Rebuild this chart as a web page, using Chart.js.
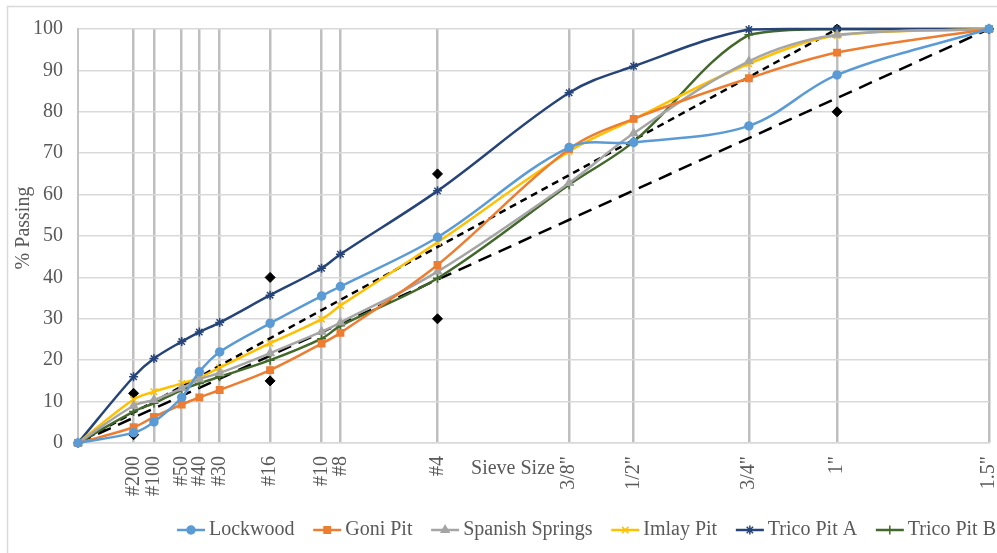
<!DOCTYPE html>
<html><head><meta charset="utf-8">
<script src="https://cdn.jsdelivr.net/npm/chart.js@4.4.1/dist/chart.umd.min.js"></script>
<style>html,body{margin:0;padding:0;background:#fff;overflow:hidden}</style>
</head><body>
<canvas id="c" width="997" height="553" style="display:block;width:997px;height:553px"></canvas>
<script>
// ---- data ----
const sieveLabels = ['#200','#100','#50','#40','#30','#16','#10','#8','#4','3/8"','1/2"','3/4"','1"','1.5"'];
const sieveSizesMm = [0.075,0.15,0.3,0.425,0.6,1.18,2.0,2.36,4.75,9.5,12.5,19,25,37.5];
const pointSizesMm = [0,0.075,0.15,0.3,0.425,0.6,1.18,2.0,2.36,4.75,9.5,12.5,19,25,37.5];
const lockwood     = [0, 2.5, 5.1, 11.0, 17.2, 22.0, 28.9, 35.5, 37.8, 49.7, 71.4, 72.6, 76.6, 88.9, 100];
const goniPit      = [0, 3.8, 6.3,  9.3, 11.0, 12.8, 17.6, 24.0, 26.6, 43.0, 71.0, 78.3, 88.1, 94.3, 100];
const spanishSpr   = [0, 9.0,10.4, 13.2, 15.4, 16.9, 21.7, 26.9, 29.1, 41.4, 62.8, 74.8, 92.2, 98.6, 100];
const imlayPit     = [0,10.5,12.4, 14.4, 15.8, 18.2, 24.1, 29.9, 33.2, 48.5, 70.4, 78.2, 91.6, 98.4, 100];
const tricoPitA    = [0,16.0,20.4, 24.5, 26.8, 29.1, 35.7, 42.2, 45.6, 60.9, 84.6, 91.0, 99.9, 100, 100];
const tricoPitB    = [0, 7.6, 9.6, 12.8, 14.4, 16.0, 20.0, 25.2, 28.3, 39.8, 62.4, 72.8, 98.6, 100, 100];
const maxDensity15Sizes = [0, 37.5];
const maxDensity15Vals  = [0, 100];
const maxDensity1Sizes  = [0, 25];
const maxDensity1Vals   = [0, 100];
const controlSizes  = [0.075, 0.075, 1.18, 1.18, 4.75, 4.75, 25, 25, 37.5];
const controlVals   = [2, 12, 15, 40, 30, 65, 80, 100, 100];
const yTicks = [0,10,20,30,40,50,60,70,80,90,100];

// ---- helpers ----
const P = 0.45;
const px = s => Math.pow(s, P);
const pts = (sizes, vals) => sizes.map((s, i) => ({x: px(s), y: vals[i]}));
const FONT = '"Liberation Serif", "Times New Roman", serif';
const FS = 20;
const TXT = '#595959';

function series(label, vals, color, style, radius) {
  return {
    label, data: pts(pointSizesMm, vals), borderColor: color, backgroundColor: color,
    pointStyle: style, pointRadius: radius, pointHoverRadius: radius, pointBorderWidth: 1.5,
    borderWidth: 2.5, tension: 0.35, fill: false, clip: 12, inLegend: true
  };
}

const datasets = [
  series('Lockwood', lockwood, '#5B9BD5', 'circle', 4),
  series('Goni Pit', goniPit, '#ED7D31', 'rect', 4.5),
  series('Spanish Springs', spanishSpr, '#A5A5A5', 'triangle', 4.5),
  series('Imlay Pit', imlayPit, '#FFC000', 'crossRot', 4.5),
  series('Trico Pit A', tricoPitA, '#264478', 'star', 4.5),
  series('Trico Pit B', tricoPitB, '#43682B', 'cross', 4.5),
  {label: 'Max density 1.5"', data: pts(maxDensity15Sizes, maxDensity15Vals), borderColor: '#000', borderWidth: 2.5,
   borderDash: [14, 8], pointRadius: 0, tension: 0, fill: false, clip: 12},
  {label: 'Max density 1"', data: pts(maxDensity1Sizes, maxDensity1Vals), borderColor: '#000', borderWidth: 2.5,
   borderDash: [7, 5], pointRadius: 0, tension: 0, fill: false, clip: 12},
  {label: 'Control points', data: pts(controlSizes, controlVals), showLine: false, borderColor: '#000', backgroundColor: '#000',
   pointStyle: 'rectRot', pointRadius: 5, pointBorderWidth: 1, clip: 12}
];

const frame = {
  id: 'frame',
  beforeDraw(chart) {
    const ctx = chart.ctx;
    ctx.save();
    ctx.strokeStyle = '#d9d9d9'; ctx.lineWidth = 1.5;
    ctx.beginPath(); ctx.moveTo(7.5, 553); ctx.lineTo(7.5, 6.5); ctx.lineTo(997, 6.5); ctx.stroke();
    ctx.restore();
  }
};

const titlesAndLegend = {
  id: 'titlesAndLegend',
  afterDraw(chart) {
    const ctx = chart.ctx;
    ctx.save();
    ctx.fillStyle = TXT;
    ctx.font = FS + 'px ' + FONT;
    ctx.textBaseline = 'middle';
    ctx.textAlign = 'center';
    ctx.fillText('Sieve Size', 513, 469);
    ctx.save();
    ctx.translate(24, 228);
    ctx.rotate(-Math.PI / 2);
    ctx.fillText('% Passing', 0, 0);
    ctx.restore();
    // legend
    const items = chart.data.datasets.filter(d => d.inLegend);
    const lineLen = 28, gapTxt = 4, startX = 177, endX = 996, ly = 530;
    let textSum = 0;
    items.forEach(d => textSum += ctx.measureText(d.label).width);
    const gap = (endX - startX - items.length * (lineLen + gapTxt) - textSum) / (items.length - 1);
    let x = startX;
    ctx.textAlign = 'left';
    items.forEach(d => {
      ctx.strokeStyle = d.borderColor; ctx.lineWidth = 2.5; ctx.setLineDash([]);
      ctx.beginPath(); ctx.moveTo(x, ly); ctx.lineTo(x + lineLen, ly); ctx.stroke();
      ctx.fillStyle = d.backgroundColor; ctx.lineWidth = 1.5;
      Chart.helpers.drawPoint(ctx, {pointStyle: d.pointStyle, radius: d.pointRadius, borderWidth: 1.5, rotation: 0}, x + lineLen / 2, ly);
      ctx.fillStyle = TXT;
      ctx.fillText(d.label, x + lineLen + gapTxt, ly);
      x += lineLen + gapTxt + ctx.measureText(d.label).width + gap;
    });
    ctx.restore();
  }
};

new Chart(document.getElementById('c'), {
  type: 'line',
  data: {datasets},
  plugins: [frame, titlesAndLegend],
  options: {
    responsive: false, animation: false, devicePixelRatio: 1,
    layout: {padding: {left: 0, right: 8, top: 29, bottom: 0}},
    plugins: {legend: {display: false}, tooltip: {enabled: false}},
    scales: {
      x: {
        type: 'linear', min: 0, max: px(37.5),
        afterBuildTicks: s => { s.ticks = sieveSizesMm.map(v => ({value: px(v)})); },
        afterFit: s => { s.height = 110; s.paddingLeft = 0; s.paddingRight = 0; },
        ticks: {
          autoSkip: false, maxRotation: 90, minRotation: 90, padding: 13,
          color: TXT, font: {family: FONT, size: FS},
          callback: (v, i) => sieveLabels[i]
        },
        grid: {color: '#bfbfbf', lineWidth: 2.5, drawTicks: false},
        border: {display: true, color: '#d9d9d9', width: 1.5}
      },
      y: {
        type: 'linear', min: 0, max: 100,
        afterBuildTicks: s => { s.ticks = yTicks.map(v => ({value: v})); },
        afterFit: s => { s.width = 78; s.paddingTop = 0; s.paddingBottom = 0; },
        ticks: {padding: 15, color: TXT, font: {family: FONT, size: FS}},
        grid: {color: '#d9d9d9', lineWidth: 1.5, drawTicks: false},
        border: {display: true, color: '#c4c4c4', width: 2}
      }
    }
  }
});
</script>
</body></html>
